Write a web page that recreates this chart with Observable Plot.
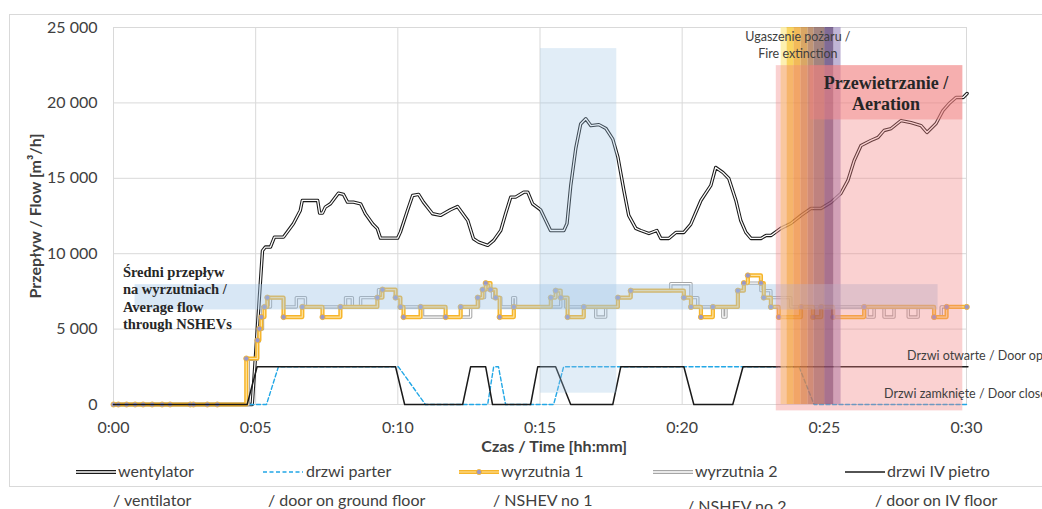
<!DOCTYPE html>
<html><head><meta charset="utf-8">
<script src="https://cdn.jsdelivr.net/npm/d3@7"></script>
<script src="https://cdn.jsdelivr.net/npm/@observablehq/plot@0.6"></script>
<style>
html,body{margin:0;padding:0;overflow:hidden;background:#fff;}
#wrap{position:relative;width:1042px;height:509px;overflow:hidden;font-family:Lato,sans-serif;color:#404040;}
#chart{position:absolute;left:0;top:0;}
#frame{position:absolute;left:9px;top:14px;width:1100px;height:473px;border:1px solid #d9d9d9;box-sizing:border-box;pointer-events:none;}
.lg{position:absolute;font-size:16px;line-height:16px;white-space:nowrap;color:#404040;}
.sw{position:absolute;}
</style></head><body>
<div id="wrap"><div id="chart"></div><div id="frame"></div><div id="legend"></div></div>
<script>
// ---- data: [time in minutes, flow m3/h] ----
const wentylator = [[0,0],[4.88,0],[5.24,10200],[5.34,10440],[5.52,10440],[5.66,11100],[5.98,11100],[6.33,12000],[6.57,12870],[6.64,13530],[7.18,13530],[7.25,12690],[7.35,12690],[7.45,13090],[7.63,13310],[7.91,14010],[8.09,13930],[8.23,13420],[8.44,13420],[8.69,13310],[8.86,12650],[9.11,11990],[9.28,11660],[9.39,11030],[9.99,11030],[10.09,11430],[10.34,12870],[10.52,13860],[10.73,13930],[10.90,13420],[11.22,12650],[11.50,12540],[11.85,12910],[12.10,13130],[12.46,12200],[12.66,10990],[12.84,10770],[13.16,10550],[13.37,10880],[13.62,11540],[13.79,12650],[13.97,13750],[14.14,13750],[14.43,14080],[14.57,14080],[14.74,13310],[15.02,12910],[15.37,11540],[15.84,11540],[15.95,12000],[16.08,14500],[16.26,17000],[16.43,18600],[16.61,18950],[16.79,18490],[17.07,18560],[17.32,18300],[17.56,17600],[17.74,16400],[17.95,14200],[18.12,12540],[18.37,11680],[18.54,11540],[18.83,11340],[19.11,11540],[19.25,11010],[19.53,11010],[19.78,11410],[20.06,11410],[20.30,11940],[20.66,13530],[21.01,14530],[21.18,15720],[21.43,15390],[21.64,14990],[21.89,13530],[22.06,12200],[22.24,11410],[22.42,11010],[22.77,11010],[22.95,11210],[23.13,11210],[23.47,11680],[23.82,12000],[24.18,12540],[24.53,13000],[24.88,13000],[25.23,13400],[25.58,13990],[25.83,14860],[26.05,16180],[26.29,17170],[26.64,17510],[26.89,17710],[27.10,18170],[27.35,18300],[27.70,18830],[28.05,18690],[28.40,18500],[28.61,18040],[28.93,18630],[29.17,19490],[29.39,19960],[29.63,20360],[29.88,20360],[30.02,20620]];

const drzwiParter = [[0,0],[5.38,0],[5.80,2500],[10.02,2500],[10.97,0],[13.16,0],[13.37,2500],[13.54,2500],[13.79,0],[15.48,0],[15.83,2500],[24.11,2500],[24.64,0],[30.05,0]];

// step series (value holds until next change)
const wyrzutnia1 = [[0,0],[0.17,0],[0.46,0],[0.76,0],[1.04,0],[1.36,0],[1.71,0],[1.99,0],[2.70,0],[2.81,0],[3.30,0],[3.65,0],[4.67,3050],[5.06,4260],[5.13,5030],[5.20,5800],[5.31,6470],[5.41,7090],[5.98,5800],[6.64,6470],[7.35,5800],[7.98,6470],[9.28,7090],[9.46,7620],[9.92,7090],[10.09,6470],[10.20,5800],[10.80,6470],[11.68,5800],[12.21,6470],[12.81,7090],[12.98,7620],[13.09,8050],[13.26,7620],[13.44,7090],[13.58,5800],[14.08,6470],[15.38,7090],[15.55,7550],[15.73,7090],[15.97,5800],[16.54,6470],[17.74,7090],[18.19,7550],[20.06,7090],[20.31,6470],[20.66,5800],[21.08,6470],[21.96,7550],[22.17,8050],[22.31,8560],[22.77,8050],[22.87,7090],[23.12,6470],[23.40,5800],[24.18,6470],[24.60,5800],[24.89,6470],[25.31,5800],[26.40,6470],[28.86,5800],[29.30,6470],[30.01,6470]];

const wyrzutnia2 = [[0,0],[4.74,3000],[5.06,4200],[5.13,5000],[5.24,6470],[5.52,7090],[5.98,6470],[6.43,7090],[6.75,6470],[8.16,7090],[8.40,6470],[8.69,7090],[9.32,7620],[9.92,7090],[10.09,6470],[10.87,5800],[12.56,6470],[12.84,7090],[13.05,7620],[13.33,7090],[13.62,6470],[14.04,7090],[14.14,6470],[15.73,7090],[15.90,6470],[16.96,5800],[17.31,6470],[17.74,7090],[18.19,7550],[19.60,8010],[20.31,7090],[20.55,6470],[21.43,5800],[21.54,6470],[21.96,7550],[22.17,8050],[22.77,7550],[23.12,7090],[23.82,6470],[26.50,5800],[26.75,6470],[27.10,5800],[27.45,6470],[27.95,5800],[28.30,6470],[28.86,5800],[29.11,6470],[30.01,6470]];

const drzwiIV = [[0,0],[4.70,0],[5.05,2500],[9.92,2500],[10.24,0],[12.28,0],[12.56,2500],[13.09,2500],[13.33,0],[14.67,0],[14.92,2500],[15.55,2500],[16.08,0],[17.56,0],[17.84,2500],[20.06,2500],[20.41,0],[21.78,0],[22.14,2500],[30.05,2500]];

// highlighted periods [t1, t2, flow1, flow2]
const averageBand = [[0.76, 29.0, 6270, 7950]];
const peakBand = [[15.02, 17.70, 750, 23600]];
const aerationBand = [[23.31, 29.87, -424, 22470]];
const aerationLabelBand = [[24.50, 29.87, 18870, 22470]];
const extinctionEdges = [23.48, 23.69, 23.93, 24.18, 24.43, 24.64, 25.02, 25.34, 25.59];

const xTicks = [0, 5, 10, 15, 20, 25, 30];
const yTicks = [0, 5000, 10000, 15000, 20000, 25000];

const seriesNames = ["wentylator", "drzwi parter", "wyrzutnia 1", "wyrzutnia 2", "drzwi IV pietro"];
const seriesNamesEn = ["/ ventilator", "/ door on ground floor", "/ NSHEV no 1", "/ NSHEV no 2", "/ door on IV floor"];

const fireLabel = [[24.07, 24390, "Ugaszenie pożaru /"], [24.07, 23270, "Fire extinction"]];
const aerationLabel = [[27.17, 21300, "Przewietrzanie /"], [27.17, 19935, "Aeration"]];
const averageLabel = [[0.33, 7093, "Średni przepływ\nna wyrzutniach /\nAverage flow\nthrough NSHEVs"]];
const doorLabels = [[27.91, 3210, "Drzwi otwarte / Door open"], [27.10, 680, "Drzwi zamknięte / Door closed"]];

// ---- build ----
const pts = a => a.map(([t, v]) => ({t, v}));
const rects = a => a.map(([t1, t2, f1, f2]) => ({t1, t2, f1, f2}));
const labels = a => a.map(([t, v, s]) => ({t, v, s}));
const extinction = extinctionEdges.slice(1).map((e, i) => ({t1: extinctionEdges[i], t2: e, f1: 0, f2: 25000}));
const extinctionColors = ["#fce98f", "#f6c21c", "#ec9c12", "#c98224", "#a4663a", "#7c5048", "#4a2c6a", "#a595c4"];

const fmtY = d3.formatLocale({thousands: " ", grouping: [3], decimal: ","}).format(",");
const fmtX = m => "0:" + String(m).padStart(2, "0");

const W = pts(wentylator), P = pts(drzwiParter), W1 = pts(wyrzutnia1), W2 = pts(wyrzutnia2), D4 = pts(drzwiIV);
const rx = {x1: "t1", x2: "t2", y1: "f1", y2: "f2", inset: 0};
const lx = {x: "t", y: "v"};

const chart = Plot.plot({
  width: 1042, height: 455,
  marginLeft: 113, marginRight: 76, marginTop: 27, marginBottom: 51,
  style: {fontFamily: "Lato, sans-serif", fontSize: "16px", color: "#404040", background: "none", overflow: "visible"},
  x: {domain: [0, 30]},
  y: {domain: [0, 25000]},
  marks: [
    Plot.gridY(yTicks, {stroke: "#d9d9d9", strokeOpacity: 1}),
    Plot.gridX(xTicks, {stroke: "#d9d9d9", strokeOpacity: 1}),
    Plot.axisY(yTicks, {tickSize: 0, tickPadding: 16, tickFormat: fmtY, fontSize: 16, fill: "#404040", label: null}),
    Plot.axisX(xTicks, {tickSize: 0, tickPadding: 17, tickFormat: fmtX, fontSize: 16, fill: "#404040", label: null}),
    Plot.line(W, {...lx, stroke: "#1a1a1a", strokeWidth: 3.4}),
    Plot.line(W, {...lx, stroke: "#ffffff", strokeWidth: 1.3}),
    Plot.line(P, {...lx, stroke: "#22a7e6", strokeWidth: 1.4, strokeDasharray: "4,2.5"}),
    Plot.line(W2, {...lx, curve: "step-after", stroke: "#a6a6a6", strokeWidth: 3.4}),
    Plot.line(W2, {...lx, curve: "step-after", stroke: "#ffffff", strokeWidth: 1.3}),
    Plot.line(W1, {...lx, curve: "step-after", stroke: "#f6b52a", strokeWidth: 4.2}),
    Plot.line(W1, {...lx, curve: "step-after", stroke: "#fde3a2", strokeWidth: 1.2}),
    Plot.dot(W1, {...lx, r: 2.6, fill: "#9a98c8", stroke: "#f6b52a", strokeWidth: 0.8}),
    Plot.line(D4, {...lx, stroke: "#1a1a1a", strokeWidth: 1.5}),
    ...extinction.map((b, i) => Plot.rect([b], {...rx, fill: extinctionColors[i], fillOpacity: 0.7})),
    Plot.rect(rects(averageBand), {...rx, fill: "#9dc3e6", fillOpacity: 0.4}),
    Plot.rect(rects(peakBand), {...rx, fill: "#9dc3e6", fillOpacity: 0.3}),
    Plot.rect(rects(aerationBand), {...rx, fill: "#f08080", fillOpacity: 0.36}),
    Plot.rect(rects(aerationLabelBand), {...rx, fill: "#f08080", fillOpacity: 0.42}),
    Plot.text(labels(fireLabel), {x: "t", y: "v", text: "s", fontSize: 12.5, fill: "#404040"}),
    Plot.text(labels(aerationLabel), {x: "t", y: "v", text: "s", fontSize: 18, fontWeight: "bold", fontFamily: "Liberation Serif", fill: "#262626"}),
    Plot.text(labels(averageLabel), {x: "t", y: "v", text: "s", textAnchor: "start", lineHeight: 1.2, fontSize: 14.5, fontWeight: "bold", fontFamily: "Liberation Serif", fill: "#262626"}),
    Plot.text(labels(doorLabels), {x: "t", y: "v", text: "s", textAnchor: "start", fontSize: 12.5, fill: "#404040"}),
    Plot.text(["Przepływ / Flow [m³/h]"], {frameAnchor: "left", textAnchor: "middle", lineAnchor: "middle", rotate: -90, dx: -78, fontSize: 16, fontWeight: "bold", fill: "#404040"}),
    Plot.text(["Czas / Time [hh:mm]"], {x: () => 15.5, frameAnchor: "bottom", lineAnchor: "middle", dy: 42, fontSize: 16, fontWeight: "bold", fill: "#404040"})
  ]
});
document.getElementById("chart").append(chart);

// ---- legend ----
const legendLayout = [[76, 118, 113, 0], [263, 306, 268, 0], [459, 501, 493, 0], [653, 695, 687, 6], [845, 887, 875, 0]];
const swatches = [
  '<line x1="0" x2="40" y1="5" y2="5" stroke="#1a1a1a" stroke-width="4"/><line x1="0" x2="40" y1="5" y2="5" stroke="#fff" stroke-width="1.5"/>',
  '<line x1="0" x2="40" y1="5" y2="5" stroke="#22a7e6" stroke-width="1.4" stroke-dasharray="4,2.5"/>',
  '<line x1="0" x2="40" y1="5" y2="5" stroke="#f6b52a" stroke-width="4"/><line x1="0" x2="40" y1="5" y2="5" stroke="#fde3a2" stroke-width="1.2"/><circle cx="20" cy="5" r="2.6" fill="#9a98c8" stroke="#f6b52a" stroke-width="0.8"/>',
  '<line x1="0" x2="40" y1="5" y2="5" stroke="#a6a6a6" stroke-width="4"/><line x1="0" x2="40" y1="5" y2="5" stroke="#fff" stroke-width="1.5"/>',
  '<line x1="0" x2="40" y1="5" y2="5" stroke="#1a1a1a" stroke-width="1.5"/>'
];
const leg = document.getElementById("legend");
seriesNames.forEach((name, i) => {
  const [sx, tx, ex, eoff] = legendLayout[i];
  leg.insertAdjacentHTML("beforeend",
    `<svg class="sw" style="left:${sx}px;top:467px" width="40" height="10">${swatches[i]}</svg>` +
    `<div class="lg" style="left:${tx}px;top:463px">${name}</div>` +
    `<div class="lg" style="left:${ex}px;top:${492 + eoff}px">${seriesNamesEn[i]}</div>`);
});
</script></body></html>
